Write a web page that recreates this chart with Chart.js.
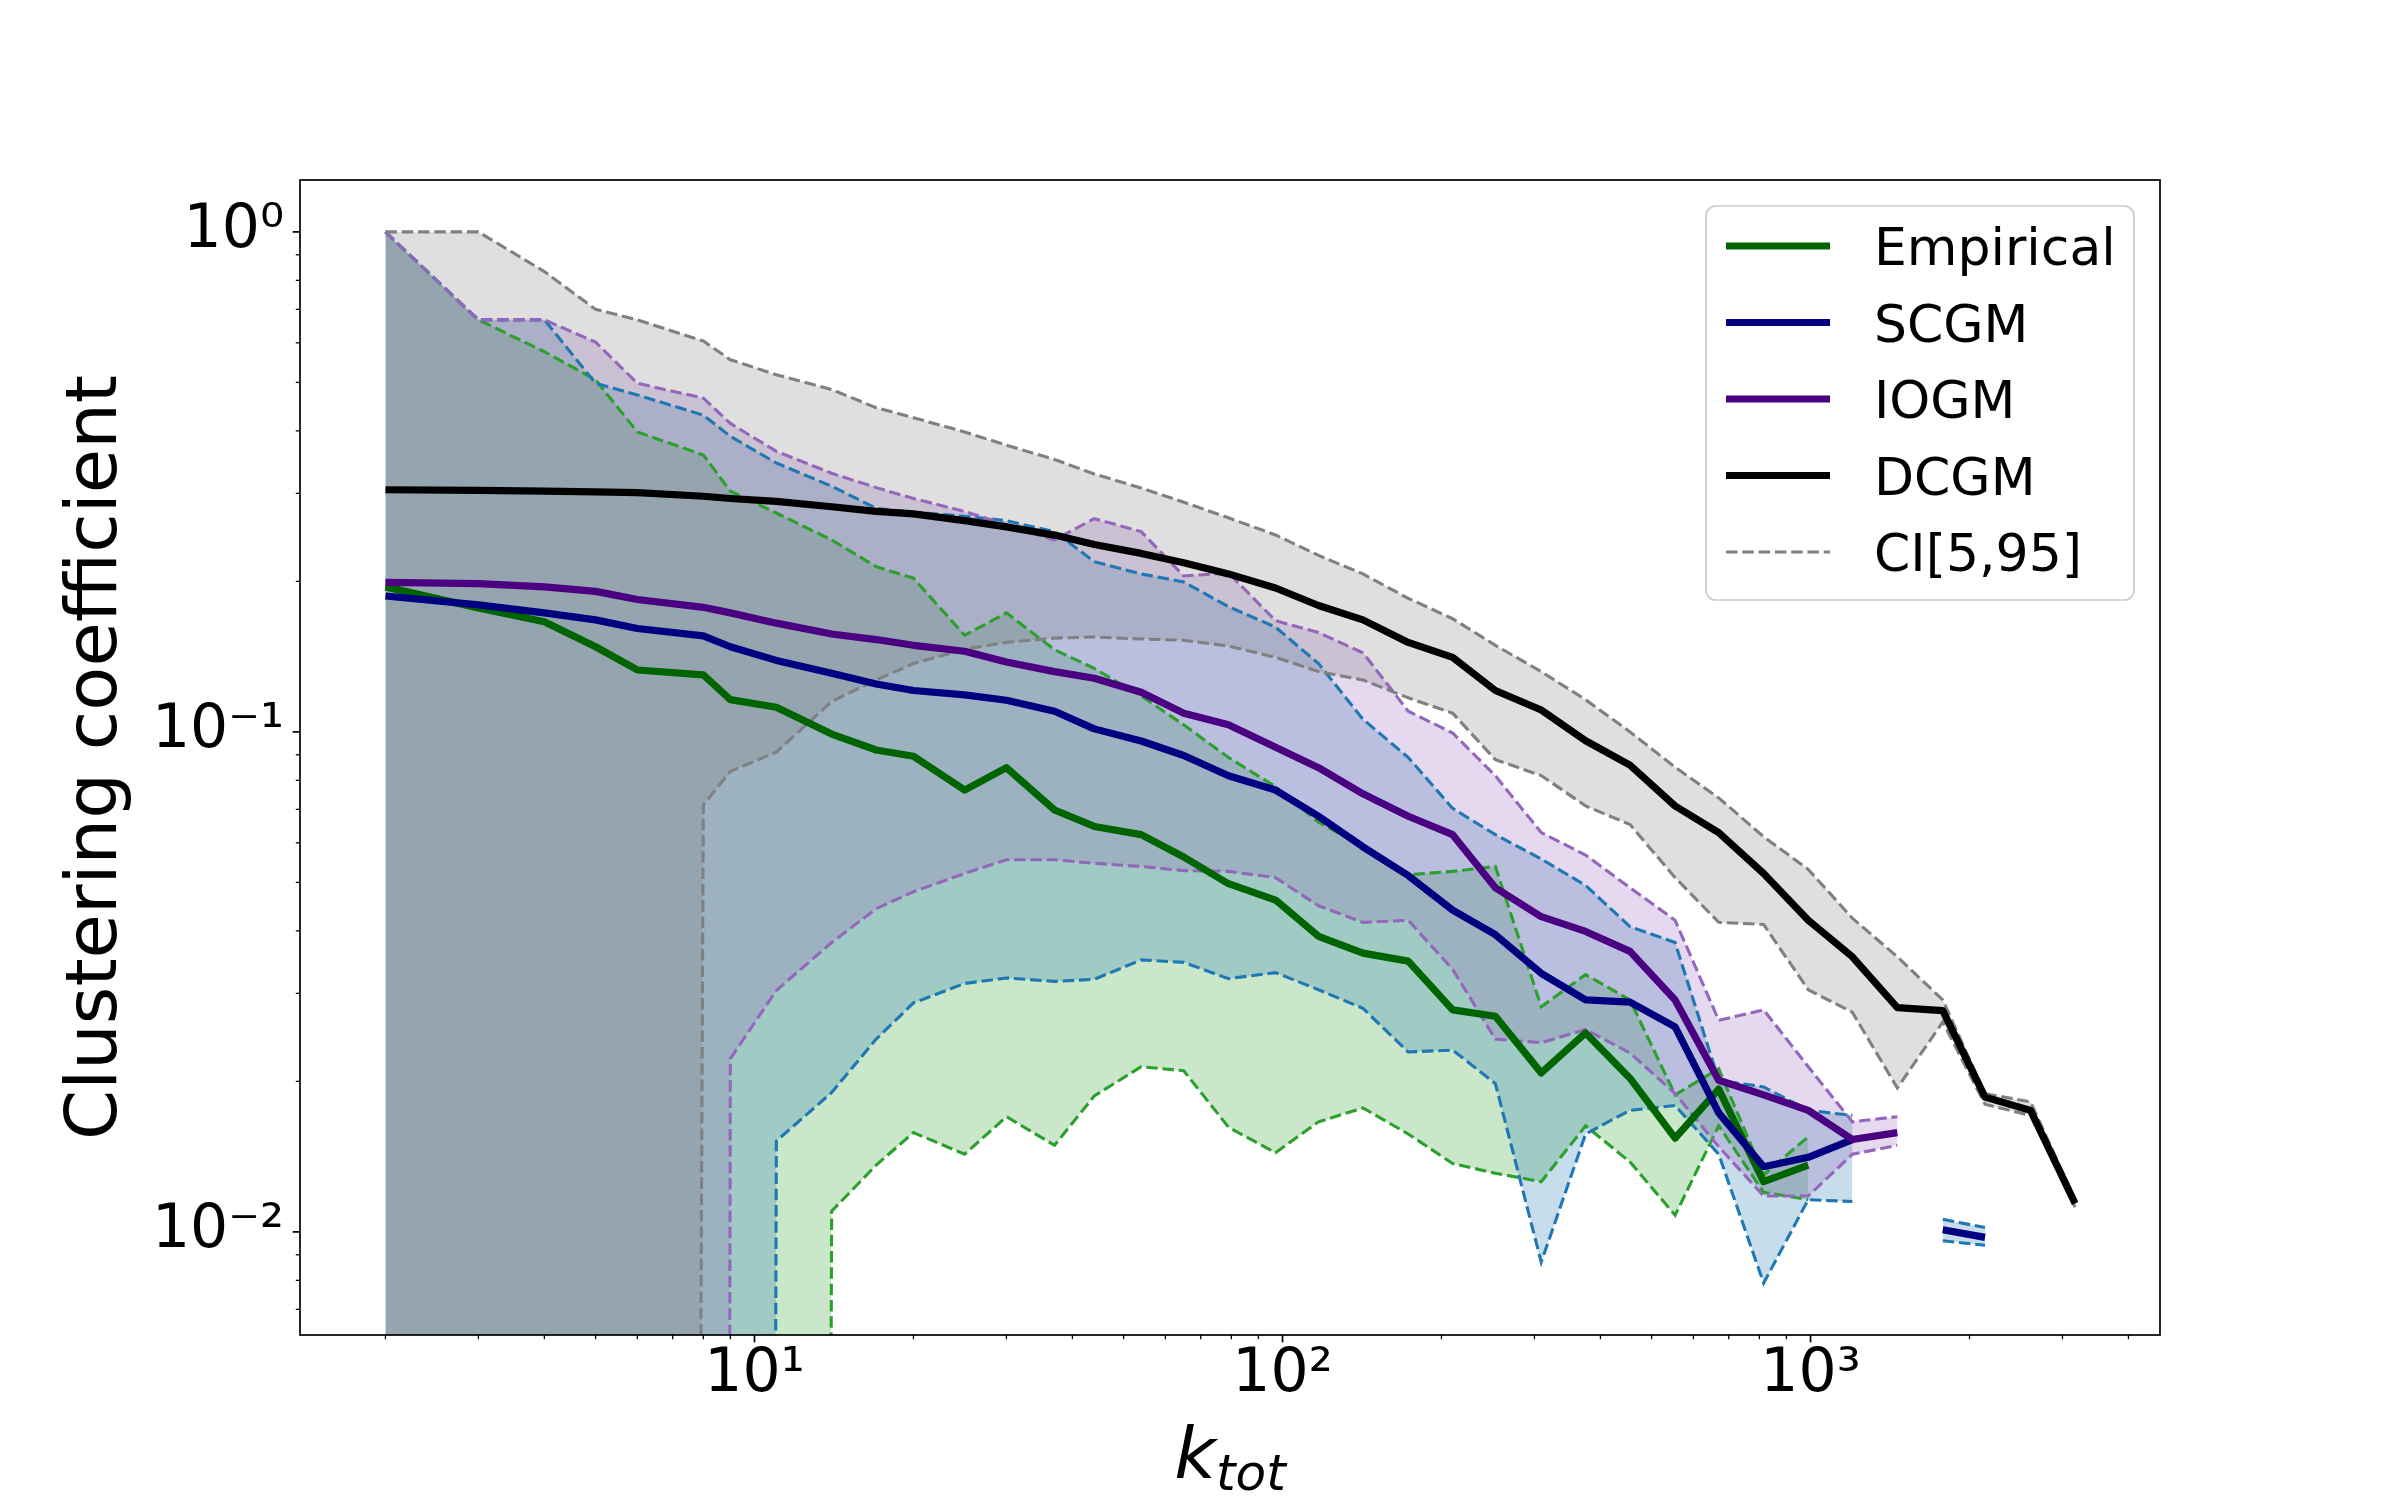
<!DOCTYPE html>
<html lang="en">
<head>
    <meta charset="UTF-8">
    <title>Clustering coefficient</title>
    <script src="https://cdn.jsdelivr.net/npm/chart.js"></script>
    <style>
        body {
            margin: 0;
            background: white;
        }
        canvas {
            display: block;
        }
    </style>
</head>
<body>
    <canvas id="chart" width="2400" height="1500"></canvas>

    <script>
        // degree bins (k_tot)
        const kTot = [2, 3, 4, 5, 6, 8, 9, 11, 14, 17, 20, 25, 30, 37, 44, 54, 65, 79, 97, 117, 142, 173, 210, 253,
                      309, 375, 455, 554, 670, 815, 990, 1200, 1460, 1780, 2140, 2610, 3170];

        const seriesNames = ['Empirical', 'SCGM', 'IOGM', 'DCGM'];
        const ciName = 'CI[5,95]';

        // Empirical
        const empirical = [0.195, 0.177, 0.166, 0.148, 0.133, 0.130, 0.116, 0.112, 0.099, 0.092, 0.0894, 0.0765, 0.0848, 0.0698,
                           0.0647, 0.0623, 0.0562, 0.0497, 0.0461, 0.039, 0.0361, 0.0348, 0.0278, 0.027, 0.0208, 0.025, 0.0203,
                           0.0154, 0.0193, 0.0126, 0.0136, null, null, null, null, null, null];
        const empiricalLo = [0, 0, 0, 0, 0, 0, 0, 0, 0.011, 0.0136, 0.0158, 0.0143, 0.017, 0.0149, 0.0187, 0.0214, 0.021, 0.0162,
                             0.0144, 0.0166, 0.0177, 0.0157, 0.0137, 0.0131, 0.0126, 0.0163, 0.0138, 0.0108, 0.0163, 0.0120,
                             0.0116, null, null, null, null, null, null];
        const empiricalHi = [1.0, 0.667, 0.576, 0.506, 0.398, 0.358, 0.303, 0.274, 0.242, 0.214, 0.203, 0.156, 0.173, 0.146,
                             0.134, 0.118, 0.1033, 0.0889, 0.0777, 0.066, 0.0589, 0.0518, 0.0526, 0.0538, 0.0282, 0.0327,
                             0.0291, 0.0188, 0.0212, 0.0130, 0.0155, null, null, null, null, null, null];

        // SCGM
        const scgm = [0.187, 0.1795, 0.173, 0.1675, 0.161, 0.1556, 0.148, 0.139, 0.131, 0.1247, 0.121, 0.1186, 0.1157, 0.110,
                      0.1014, 0.0959, 0.0897, 0.0817, 0.0765, 0.0678, 0.0589, 0.0516, 0.044, 0.0393, 0.0329, 0.0291, 0.0288,
                      0.0257, 0.0173, 0.0135, 0.0141, 0.0153, null, 0.0101, 0.00975, null, null];
        const scgmLo = [0, 0, 0, 0, 0, 0, 0, 0.0152, 0.019, 0.0243, 0.0287, 0.0314, 0.0322, 0.0317, 0.032, 0.035, 0.0346,
                        0.0321, 0.033, 0.0305, 0.028, 0.0229, 0.0231, 0.0198, 0.0087, 0.0157, 0.0175, 0.0179, 0.0143, 0.0079,
                        0.0116, 0.0115, null, 0.0096, 0.0094, null, null];
        const scgmHi = [1.0, 0.667, 0.667, 0.498, 0.472, 0.43, 0.39, 0.345, 0.31, 0.28, 0.275, 0.27, 0.2644, 0.2515, 0.219,
                        0.207, 0.1995, 0.178, 0.162, 0.137, 0.106, 0.0889, 0.0703, 0.0623, 0.0557, 0.0493, 0.0408, 0.0379,
                        0.0201, 0.0195, 0.0175, 0.0171, null, 0.0106, 0.0102, null, null];

        // IOGM
        const iogm = [0.199, 0.198, 0.195, 0.191, 0.184, 0.1775, 0.173, 0.165, 0.157, 0.153, 0.149, 0.145, 0.138, 0.132, 0.128,
                      0.120, 0.109, 0.1033, 0.0932, 0.0848, 0.0752, 0.0678, 0.0623, 0.0488, 0.0427, 0.0399, 0.0364, 0.0291,
                      0.0201, 0.0188, 0.0175, 0.0153, 0.0158, null, null, null, null];
        const iogmLo = [0, 0, 0, 0, 0, 0, 0.0222, 0.0304, 0.0379, 0.0443, 0.0479, 0.0521, 0.0555, 0.0555, 0.0546, 0.0538,
                        0.0528, 0.0526, 0.0511, 0.0449, 0.0416, 0.042, 0.0335, 0.0243, 0.0239, 0.0254, 0.0228, 0.0189, 0.0148,
                        0.0118, 0.0118, 0.0143, 0.0149, null, 0.0115, null, null];
        const iogmHi = [1.0, 0.667, 0.667, 0.602, 0.498, 0.465, 0.414, 0.364, 0.329, 0.308, 0.293, 0.276, 0.2596, 0.242, 0.267,
                        0.2515, 0.205, 0.208, 0.1669, 0.158, 0.144, 0.110, 0.0995, 0.0817, 0.0629, 0.0567, 0.0488, 0.042,
                        0.0265, 0.0278, 0.0214, 0.0166, 0.0170, null, 0.0126, null, null];

        // DCGM
        const dcgm = [0.305, 0.304, 0.303, 0.302, 0.301, 0.296, 0.293, 0.289, 0.282, 0.276, 0.273, 0.2645, 0.257, 0.2475, 0.237,
                      0.2275, 0.218, 0.207, 0.194, 0.179, 0.1675, 0.151, 0.141, 0.121, 0.1106, 0.096, 0.0858, 0.0711, 0.0629,
                      0.0521, 0.042, 0.0355, 0.0281, 0.0277, 0.0186, 0.0175, 0.0114];
        const dcgmLo = [0, 0, 0, 0, 0, 0.0714, 0.0834, 0.0911, 0.115, 0.127, 0.137, 0.1463, 0.151, 0.154, 0.1548, 0.1534,
                        0.1525, 0.1485, 0.141, 0.132, 0.127, 0.117, 0.109, 0.088, 0.0818, 0.0711, 0.0653, 0.0511, 0.0416,
                        0.0412, 0.0305, 0.0275, 0.0194, 0.0263, 0.0180, 0.0171, 0.0112];
        const dcgmHi = [1.0, 1.0, 0.833, 0.70, 0.667, 0.605, 0.555, 0.518, 0.484, 0.445, 0.425, 0.398, 0.3745, 0.3506, 0.328,
                        0.3074, 0.288, 0.268, 0.2477, 0.2254, 0.207, 0.185, 0.1684, 0.149, 0.132, 0.116, 0.100, 0.085, 0.0738,
                        0.0617, 0.0531, 0.0424, 0.0355, 0.0291, 0.0189, 0.0182, 0.0116];

        // axis limits
        const xMin = 1.378, xMax = 4590;
        const yMin = 0.00622, yMax = 1.27;

        const FONT = "'DejaVu Sans', sans-serif";
        const LINE_W = 7.2;
        const DASH_W = 3.1;
        const DASH = [11.5, 4.8];
        // a zero can't sit on a log axis: push it far below like matplotlib does,
        // so the band edge drops straight down
        const FLOOR = 1e-30;

        function points(values) {
            return kTot.map((k, i) => ({ x: k, y: values[i] === 0 ? FLOOR : values[i] }));
        }

        function lineSet(label, values, color, order) {
            return {
                label: label,
                data: points(values),
                borderColor: color,
                borderWidth: LINE_W,
                borderJoinStyle: 'round',
                pointRadius: 0,
                fill: false,
                order: order
            };
        }

        // lower bound then upper bound, the upper one fills down to the lower one
        function bandSets(lo, hi, color, fillColor, order) {
            const common = {
                borderColor: color,
                borderWidth: DASH_W,
                borderDash: DASH,
                pointRadius: 0,
                order: order
            };
            return [
                Object.assign({ label: ciName, data: points(lo), fill: false }, common),
                Object.assign({ label: ciName, data: points(hi), fill: '-1', backgroundColor: fillColor }, common)
            ];
        }

        const sup = { '-': '\u207B', '0': '\u2070', '1': '\u00B9', '2': '\u00B2', '3': '\u00B3' };

        function logTicks(min, max) {
            const ticks = [];
            for (let e = Math.floor(Math.log10(min)); e <= Math.ceil(Math.log10(max)); e++) {
                for (let m = 1; m <= 9; m++) {
                    const v = m * Math.pow(10, e);
                    if (v >= min && v <= max) ticks.push({ value: v, major: m === 1 });
                }
            }
            return ticks;
        }

        function tickLabel(value) {
            const e = Math.round(Math.log10(value));
            if (Math.abs(value - Math.pow(10, e)) > 1e-9 * value) return '';
            return '10' + String(e).split('').map(c => sup[c]).join('');
        }

        const lineColors = ['#006400', '#000080', '#4b0082', '#000000'];

        // frame, tick marks, x label and legend in matplotlib style
        const decorations = {
            id: 'decorations',
            afterDraw(chart) {
                const { ctx, chartArea: a, scales } = chart;
                ctx.save();
                ctx.strokeStyle = '#000';

                scales.x.ticks.forEach(t => {
                    const px = scales.x.getPixelForValue(t.value);
                    ctx.lineWidth = t.major ? 1.7 : 1.3;
                    ctx.beginPath();
                    ctx.moveTo(px, a.bottom);
                    ctx.lineTo(px, a.bottom + (t.major ? 7.3 : 4.2));
                    ctx.stroke();
                });
                scales.y.ticks.forEach(t => {
                    const py = scales.y.getPixelForValue(t.value);
                    ctx.lineWidth = t.major ? 1.7 : 1.3;
                    ctx.beginPath();
                    ctx.moveTo(a.left, py);
                    ctx.lineTo(a.left - (t.major ? 7.3 : 4.2), py);
                    ctx.stroke();
                });

                ctx.lineWidth = 1.7;
                ctx.strokeRect(a.left, a.top, a.right - a.left, a.bottom - a.top);

                // x label: k with subscript tot
                ctx.fillStyle = '#000';
                ctx.textBaseline = 'alphabetic';
                ctx.textAlign = 'left';
                ctx.font = 'italic 72px ' + FONT;
                const kw = ctx.measureText('k').width;
                ctx.font = 'italic 50px ' + FONT;
                const sw = ctx.measureText('tot').width;
                const x0 = (a.left + a.right) / 2 - (kw + sw) / 2;
                ctx.font = 'italic 72px ' + FONT;
                ctx.fillText('k', x0, 1478);
                ctx.font = 'italic 50px ' + FONT;
                ctx.fillText('tot', x0 + kw, 1490);

                // legend
                const lw = 428, lh = 394;
                const lx = a.right - 26 - lw, ly = a.top + 26;
                ctx.beginPath();
                ctx.roundRect(lx, ly, lw, lh, 10);
                ctx.fillStyle = 'rgba(255, 255, 255, 0.8)';
                ctx.fill();
                ctx.lineWidth = 1.7;
                ctx.strokeStyle = '#cccccc';
                ctx.stroke();

                const entries = seriesNames.map((name, i) => ({ name: name, color: lineColors[i], dash: false }));
                entries.push({ name: ciName, color: 'gray', dash: true });
                ctx.font = '52px ' + FONT;
                entries.forEach((item, i) => {
                    const cy = ly + 40 + i * 76.5;
                    ctx.beginPath();
                    ctx.strokeStyle = item.color;
                    ctx.lineWidth = item.dash ? DASH_W : LINE_W;
                    ctx.setLineDash(item.dash ? DASH : []);
                    ctx.moveTo(lx + 20, cy);
                    ctx.lineTo(lx + 124, cy);
                    ctx.stroke();
                    ctx.setLineDash([]);
                    ctx.fillStyle = '#000';
                    ctx.fillText(item.name, lx + 168, cy + 19);
                });

                ctx.restore();
            }
        };

        const datasets = [].concat(
            bandSets(empiricalLo, empiricalHi, '#2ca02c', 'rgba(44, 160, 44, 0.25)', 8),
            bandSets(scgmLo, scgmHi, '#1f77b4', 'rgba(31, 119, 180, 0.25)', 7),
            bandSets(iogmLo, iogmHi, '#9467bd', 'rgba(148, 103, 189, 0.25)', 6),
            bandSets(dcgmLo, dcgmHi, '#808080', 'rgba(128, 128, 128, 0.25)', 5),
            [
                lineSet(seriesNames[0], empirical, lineColors[0], 4),
                lineSet(seriesNames[1], scgm, lineColors[1], 3),
                lineSet(seriesNames[2], iogm, lineColors[2], 2),
                lineSet(seriesNames[3], dcgm, lineColors[3], 1)
            ]
        );

        new Chart(document.getElementById('chart'), {
            type: 'line',
            data: { datasets: datasets },
            options: {
                responsive: false,
                animation: false,
                devicePixelRatio: 1,
                events: [],
                layout: { padding: { left: 0, right: 240, top: 180, bottom: 0 } },
                plugins: {
                    legend: { display: false },
                    tooltip: { enabled: false },
                    // all bands first, every line (dashed ones too) on top of them
                    filler: { drawTime: 'beforeDatasetsDraw' }
                },
                scales: {
                    x: {
                        type: 'logarithmic',
                        min: xMin,
                        max: xMax,
                        bounds: 'data',
                        grid: { display: false, drawTicks: false },
                        border: { display: false },
                        afterBuildTicks: scale => { scale.ticks = logTicks(xMin, xMax); },
                        afterFit: scale => { scale.height = 165; },
                        ticks: {
                            autoSkip: false,
                            maxRotation: 0,
                            padding: 4,
                            color: '#000',
                            font: { family: FONT, size: 60 },
                            callback: value => tickLabel(value)
                        }
                    },
                    y: {
                        type: 'logarithmic',
                        min: yMin,
                        max: yMax,
                        bounds: 'data',
                        grid: { display: false, drawTicks: false },
                        border: { display: false },
                        afterBuildTicks: scale => { scale.ticks = logTicks(yMin, yMax); },
                        afterFit: scale => { scale.width = 300; },
                        ticks: {
                            autoSkip: false,
                            padding: 16,
                            color: '#000',
                            font: { family: FONT, size: 60 },
                            callback: value => tickLabel(value)
                        },
                        title: {
                            display: true,
                            text: 'Clustering coefficient',
                            color: '#000',
                            font: { family: FONT, size: 72 },
                            padding: { top: 54, bottom: 0 }
                        }
                    }
                }
            },
            plugins: [decorations]
        });
    </script>
</body>
</html>
